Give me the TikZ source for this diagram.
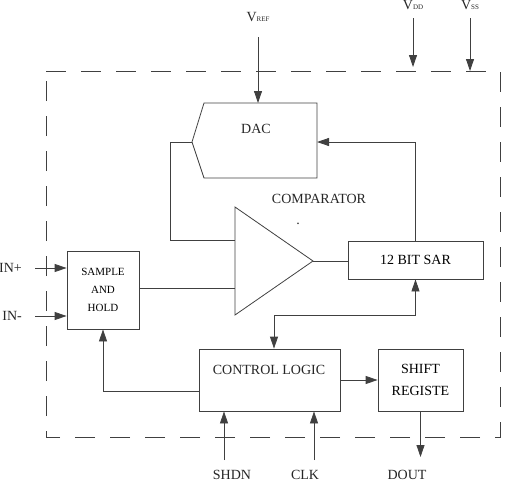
\documentclass[tikz,border=0pt]{standalone}
\usepackage{fontspec}
\setmainfont{Liberation Serif}
\usetikzlibrary{arrows.meta}

\newcommand{\lowtxt}[1]{{\fontsize{7}{7}\selectfont #1}}

\tikzset{
  wire/.style={line width=0.8pt, draw=black!75},
  arr/.style={wire, -{Triangle[length=12pt,width=8pt]}},
  twoway/.style={wire, {Triangle[length=12pt,width=8pt]}-{Triangle[length=12pt,width=8pt]}},
  blk/.style={wire, inner sep=0pt, font=\fontsize{14}{22}\selectfont, align=center},
  lbl/.style={font=\fontsize{14}{14}\selectfont, inner sep=0pt, text=black!85},
}

\begin{document}
\begin{tikzpicture}[x=1pt,y=-1pt]
  \useasboundingbox (0,0) rectangle (508,482);
  % chip outline
  \draw[wire, dash pattern=on 20pt off 15pt] (46,71) -- (500,71) -- (500,437) -- (46,437) -- cycle;

  % blocks
  \node[blk, minimum width=72pt, minimum height=78pt, font=\fontsize{11}{18}\selectfont] (sh) at (103,290) {SAMPLE\\AND\\HOLD};
  \node[blk, minimum width=135pt, minimum height=38pt] (sar) at (415.5,260) {12 BIT SAR};
  \node[blk, minimum width=141pt, minimum height=62pt] (ctl) at (269.5,380) {};
  \node[lbl] (ctltxt) at (269,370) {CONTROL LOGIC};
  \node[blk, minimum width=85pt, minimum height=62pt] (shr) at (420.5,380) {SHIFT\\REGISTE};

  % DAC
  \draw[wire] (204,103) -- (317,103) -- (317,178) -- (204,178) -- (192,142) -- cycle;
  \node[lbl] (dac) at (256,129) {DAC};
  \coordinate (dactip) at (192,142);
  \coordinate (dacin) at (317,142);
  \coordinate (dactop) at (258,103);

  % comparator
  \draw[wire] (235,207) -- (313,261) -- (235,315) -- cycle;
  \coordinate (cmpp) at (235,240);
  \coordinate (cmpm) at (235,288);
  \coordinate (cmpo) at (313,261);
  \node[lbl] (cmplbl) at (319,199) {COMPARATOR};
  \node[lbl, anchor=base] (dot) at (298,224) {.};

  % supplies
  \node[lbl] (vref) at (258,17) {V\lowtxt{REF}};
  \node[lbl] (vdd) at (413,5) {V\lowtxt{DD}};
  \node[lbl] (vss) at (470,5) {V\lowtxt{SS}};
  \coordinate (vrefin) at (258,37);
  \coordinate (vddin) at (413,18);
  \coordinate (vssin) at (470,18);
  \coordinate (vddend) at (413,67);
  \coordinate (vssend) at (470,71);
  \draw[arr] (vrefin) -- (dactop);
  \draw[arr] (vddin) -- (vddend);
  \draw[arr] (vssin) -- (vssend);

  % inputs
  \node[lbl, anchor=east] (inp) at (22,268) {IN+};
  \node[lbl, anchor=east] (inm) at (22,316) {IN-};
  \coordinate (inpst) at (35,268);
  \coordinate (inmst) at (35,316);
  \draw[arr] (inpst) -- (inpst -| sh.west);
  \draw[arr] (inmst) -- (inmst -| sh.west);

  % signal paths
  \draw[wire] (dactip) -- (170,142) |- (cmpp);
  \draw[wire] (sh.east |- cmpm) -- (cmpm);
  \draw[wire] (cmpo) -- (sar.west |- cmpo);
  \draw[arr] (sar.north) |- (dacin);
  \coordinate (bus) at (274,315);
  \draw[twoway] (sar.south) |- (bus) -- (bus |- ctl.north);
  \coordinate (shret) at (199,391);
  \draw[arr] (shret) -| (sh.south);
  \draw[arr] (ctl.east) -- (shr.west);

  % bottom pins
  \node[lbl] (shdn) at (232,475) {SHDN};
  \node[lbl] (clk) at (305,475) {CLK};
  \node[lbl] (dout) at (407,475) {DOUT};
  \coordinate (shdnin) at (224,460);
  \coordinate (clkin) at (314,460);
  \coordinate (doutend) at (420,457);
  \draw[arr] (shdnin) -- (shdnin |- ctl.south);
  \draw[arr] (clkin) -- (clkin |- ctl.south);
  \draw[arr] (shr.south) -- (shr.south |- doutend);
\end{tikzpicture}
\end{document}
